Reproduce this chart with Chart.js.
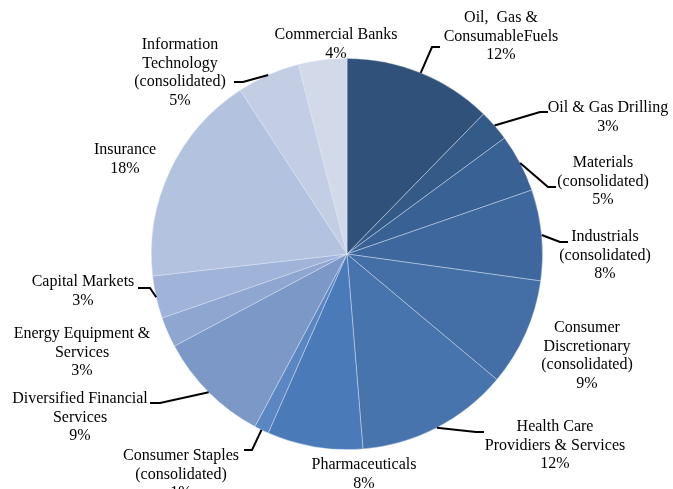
<!DOCTYPE html>
<html>
<head>
<meta charset="utf-8">
<script src="https://cdn.jsdelivr.net/npm/chart.js@4/dist/chart.umd.min.js"></script>
<style>
  html, body { margin: 0; padding: 0; background: #fff; }
  #pie { display: block; }
</style>
</head>
<body>
<canvas id="pie" width="673" height="489"></canvas>
<script>
// sector shares (clockwise from 12 o'clock)
var sectors = [
  'Oil, Gas & Consumable Fuels', 'Oil & Gas Drilling', 'Materials (consolidated)',
  'Industrials (consolidated)', 'Consumer Discretionary (consolidated)',
  'Health Care Providiers & Services', 'Pharmaceuticals', 'Consumer Staples (consolidated)',
  'Diversified Financial Services', 'Energy Equipment & Services', 'Capital Markets',
  'Insurance', 'Information Technology (consolidated)', 'Commercial Banks'
];
var shares = [12.3, 2.6, 4.8, 7.5, 8.9, 12.6, 7.9, 1.2, 9.4, 2.5, 3.5, 17.6, 5.2, 4.0];
var pctLabels = ['12%', '3%', '5%', '8%', '9%', '12%', '8%', '1%', '9%', '3%', '3%', '18%', '5%', '4%'];
var labelLines = [
  ['Oil,  Gas &', 'ConsumableFuels'],
  ['Oil & Gas Drilling'],
  ['Materials', '(consolidated)'],
  ['Industrials', '(consolidated)'],
  ['Consumer', 'Discretionary', '(consolidated)'],
  ['Health Care', 'Providiers & Services'],
  ['Pharmaceuticals'],
  ['Consumer Staples', '(consolidated)'],
  ['Diversified Financial', 'Services'],
  ['Energy Equipment &', 'Services'],
  ['Capital Markets'],
  ['Insurance'],
  ['Information', 'Technology', '(consolidated)'],
  ['Commercial Banks']
];
var colors = [
  '#30527a', '#345a87', '#3a6194', '#3e679d', '#436fa6', '#4774ac', '#4a7ab8',
  '#5a86c1', '#7c98c6', '#8ea6d0', '#a0b3d8', '#b3c3df', '#c3cee4', '#d2daea'
];

// label placement: text centre x, first line y, leader elbow + end (null = no leader)
var place = [
  {x: 501, y: 18,  leader: [[432, 47], [440, 47]]},
  {x: 608, y: 108, leader: [[540, 112], [548, 112]]},
  {x: 603, y: 163, leader: [[548, 187], [556, 187]]},
  {x: 605, y: 237, leader: [[560, 242], [568, 242]]},
  {x: 587, y: 328, leader: null},
  {x: 555, y: 427, leader: [[476, 432], [484, 432]]},
  {x: 364, y: 465, leader: null},
  {x: 181, y: 456, leader: [[252, 450], [244, 450]]},
  {x: 80,  y: 399, leader: [[160, 403], [150, 403]]},
  {x: 82,  y: 334, leader: null},
  {x: 83,  y: 282, leader: [[150, 288], [138, 288]]},
  {x: 125, y: 150, leader: null},
  {x: 180, y: 45,  leader: [[243, 82], [234, 82]]},
  {x: 336, y: 35,  leader: null}
];

var calloutPlugin = {
  id: 'callouts',
  afterDraw: function(chart) {
    var ctx = chart.ctx;
    var arcs = chart.getDatasetMeta(0).data;
    ctx.save();
    ctx.font = '16px "Liberation Serif", "Times New Roman", serif';
    ctx.fillStyle = '#000';
    ctx.textAlign = 'center';
    ctx.textBaseline = 'middle';
    for (var i = 0; i < arcs.length; i++) {
      var p = place[i];
      var lines = labelLines[i].concat([pctLabels[i]]);
      for (var k = 0; k < lines.length; k++) {
        ctx.fillText(lines[k], p.x, p.y + k * 18.5);
      }
      if (p.leader) {
        var a = arcs[i].getProps(['x', 'y', 'startAngle', 'endAngle', 'outerRadius'], true);
        var mid = (a.startAngle + a.endAngle) / 2;
        var sx = a.x + Math.cos(mid) * a.outerRadius;
        var sy = a.y + Math.sin(mid) * a.outerRadius;
        ctx.beginPath();
        ctx.lineWidth = 2;
        ctx.strokeStyle = '#000';
        ctx.moveTo(sx, sy);
        ctx.lineTo(p.leader[0][0], p.leader[0][1]);
        ctx.lineTo(p.leader[1][0], p.leader[1][1]);
        ctx.stroke();
      }
    }
    ctx.restore();
  }
};

new Chart(document.getElementById('pie'), {
  type: 'pie',
  data: {
    labels: sectors,
    datasets: [{
      data: shares,
      backgroundColor: colors,
      borderColor: 'rgba(220,230,245,0.55)',
      borderWidth: 0.8
    }]
  },
  plugins: [calloutPlugin],
  options: {
    responsive: false,
    animation: false,
    layout: {padding: {top: 58, bottom: 39, left: 151, right: 130}},
    plugins: {
      legend: {display: false},
      tooltip: {enabled: false}
    }
  }
});
</script>
</body>
</html>
